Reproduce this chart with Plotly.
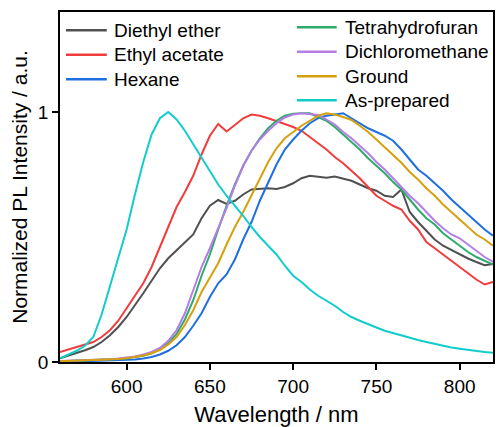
import plotly.graph_objects as go

# Emission wavelength grid (nm)
wavelength = list(range(560, 821, 5))

# Normalized PL spectra for each sample
diethyl_ether = [0.015, 0.025, 0.035, 0.047, 0.06, 0.08, 0.107, 0.14, 0.18, 0.225,
                 0.275, 0.325, 0.375, 0.415, 0.447, 0.48, 0.51, 0.575, 0.625, 0.648,
                 0.632, 0.645, 0.67, 0.69, 0.693, 0.695, 0.692, 0.70, 0.715, 0.735,
                 0.745, 0.74, 0.737, 0.742, 0.735, 0.725, 0.71, 0.695, 0.685, 0.665,
                 0.66, 0.69, 0.60, 0.56, 0.525, 0.49, 0.465, 0.447, 0.43, 0.414,
                 0.40, 0.387, 0.392]
ethyl_acetate = [0.04, 0.05, 0.06, 0.07, 0.08, 0.10, 0.127, 0.165, 0.215, 0.265,
                 0.315, 0.38, 0.46, 0.54, 0.62, 0.68, 0.745, 0.83, 0.905, 0.952,
                 0.922, 0.948, 0.975, 0.99, 0.985, 0.975, 0.965, 0.952, 0.94, 0.925,
                 0.90, 0.875, 0.85, 0.82, 0.795, 0.765, 0.735, 0.70, 0.665, 0.645,
                 0.625, 0.61, 0.565, 0.53, 0.48, 0.455, 0.43, 0.405, 0.38, 0.355,
                 0.33, 0.31, 0.32]
hexane = [0.0, 0.001, 0.002, 0.003, 0.004, 0.005, 0.006, 0.007, 0.008, 0.01,
          0.014, 0.02, 0.03, 0.045, 0.067, 0.10, 0.145, 0.195, 0.26, 0.315,
          0.35, 0.41, 0.49, 0.56, 0.645, 0.72, 0.79, 0.85, 0.89, 0.925,
          0.955, 0.975, 0.985, 0.99, 0.995, 0.975, 0.955, 0.935, 0.92, 0.905,
          0.885, 0.85, 0.81, 0.77, 0.745, 0.715, 0.685, 0.65, 0.62, 0.59,
          0.56, 0.53, 0.505]
tetrahydrofuran = [0.003, 0.004, 0.005, 0.006, 0.007, 0.008, 0.01, 0.012, 0.015, 0.019,
                   0.025, 0.035, 0.05, 0.075, 0.112, 0.17, 0.247, 0.345, 0.43, 0.53,
                   0.625, 0.71, 0.785, 0.845, 0.895, 0.935, 0.965, 0.985, 0.993, 0.995,
                   0.995, 0.98, 0.965, 0.94, 0.91, 0.88, 0.85, 0.815, 0.785, 0.755,
                   0.72, 0.69, 0.65, 0.61, 0.575, 0.55, 0.515, 0.49, 0.465, 0.44,
                   0.42, 0.405, 0.39]
dichloromethane = [0.004, 0.005, 0.006, 0.007, 0.008, 0.009, 0.011, 0.014, 0.017, 0.022,
                   0.03, 0.04, 0.056, 0.085, 0.127, 0.195, 0.287, 0.38, 0.455, 0.535,
                   0.615, 0.705, 0.785, 0.845, 0.89, 0.925, 0.955, 0.978, 0.99, 0.995,
                   0.993, 0.988, 0.97, 0.95, 0.92, 0.895, 0.865, 0.835, 0.80, 0.77,
                   0.735, 0.70, 0.665, 0.635, 0.60, 0.565, 0.535, 0.51, 0.495, 0.47,
                   0.445, 0.42, 0.40]
ground = [0.003, 0.004, 0.005, 0.006, 0.007, 0.008, 0.01, 0.012, 0.015, 0.02,
          0.026, 0.035, 0.048, 0.07, 0.10, 0.148, 0.207, 0.28, 0.335, 0.395,
          0.47, 0.54, 0.60, 0.665, 0.735, 0.80, 0.855, 0.895, 0.92, 0.945,
          0.965, 0.985, 0.995, 0.99, 0.98, 0.968, 0.945, 0.92, 0.89, 0.86,
          0.83, 0.797, 0.76, 0.73, 0.695, 0.665, 0.63, 0.60, 0.57, 0.54,
          0.51, 0.49, 0.465]
as_prepared = [0.015, 0.03, 0.045, 0.065, 0.10, 0.19, 0.30, 0.41, 0.53, 0.67,
               0.80, 0.91, 0.975, 1.0, 0.97, 0.925, 0.87, 0.815, 0.76, 0.71,
               0.665, 0.625, 0.585, 0.54, 0.50, 0.465, 0.43, 0.385, 0.345, 0.32,
               0.29, 0.265, 0.245, 0.225, 0.20, 0.18, 0.165, 0.15, 0.138, 0.125,
               0.115, 0.105, 0.097, 0.088, 0.08, 0.072, 0.065, 0.058, 0.053, 0.048,
               0.044, 0.04, 0.037]

series_names = ["Diethyl ether", "Ethyl acetate", "Hexane",
                "Tetrahydrofuran", "Dichloromethane", "Ground", "As-prepared"]
series_values = [diethyl_ether, ethyl_acetate, hexane,
                 tetrahydrofuran, dichloromethane, ground, as_prepared]
series_colors = ["#505050", "#f03c3c", "#1f6fe0",
                 "#2eaa6a", "#b57ee6", "#d6a00e", "#12cccc"]

x_ticks = [600, 650, 700, 750, 800]
y_ticks = [0, 1]
y_tick_labels = ["0", "1"]

FONT = "Liberation Sans, Arial, sans-serif"
W, H = 496, 427
L, R, T, B = 60, 1, 12, 65

fig = go.Figure()
for name, vals, col in zip(series_names, series_values, series_colors):
    fig.add_trace(go.Scatter(x=wavelength, y=vals, mode="lines", name=name,
                             line=dict(color=col, width=2), showlegend=False))

# Hand-placed two-column key inside the frame
pw, ph = W - L - R, H - T - B


def px_to_paper(px, py):
    return (px - L) / pw, (H - B - py) / ph


key_cols = [
    (66, 107, 112, [30.3, 54.7, 79.3], series_names[:3], series_colors[:3]),
    (298, 338, 344, [27.3, 51.7, 76.3, 100.3], series_names[3:], series_colors[3:]),
]
shapes, annotations = [], []
for x0, x1, xt, rows, names, cols in key_cols:
    for py, nm, col in zip(rows, names, cols):
        a0, b0 = px_to_paper(x0, py)
        a1, _ = px_to_paper(x1, py)
        shapes.append(dict(type="line", xref="paper", yref="paper",
                           x0=a0, x1=a1, y0=b0, y1=b0,
                           line=dict(color=col, width=2.5)))
        at, _ = px_to_paper(xt, py)
        annotations.append(dict(xref="paper", yref="paper", x=at, y=b0,
                                text=nm, showarrow=False, xanchor="left",
                                yanchor="middle",
                                font=dict(family=FONT, size=19, color="black")))

fig.update_layout(
    width=W, height=H,
    margin=dict(l=L, r=R, t=T, b=B),
    paper_bgcolor="white", plot_bgcolor="white",
    font=dict(family=FONT, color="black"),
    shapes=shapes, annotations=annotations,
)
fig.update_xaxes(
    range=[560, 820], tickvals=x_ticks, ticks="outside", ticklen=6, tickwidth=1.8,
    tickcolor="black", showline=True, linecolor="black", linewidth=1.8, mirror=True,
    showgrid=False, zeroline=False, tickfont=dict(size=19, family=FONT),
    title=dict(text="Wavelength / nm", font=dict(size=22, family=FONT), standoff=12),
)
fig.update_yaxes(
    range=[0, 1.4], tickvals=y_ticks, ticktext=y_tick_labels, ticks="outside",
    ticklen=6, tickwidth=1.8, tickcolor="black", showline=True, linecolor="black",
    linewidth=1.8, mirror=True, showgrid=False, zeroline=False,
    tickfont=dict(size=19, family=FONT),
    title=dict(text="Normalized PL Intensity / a.u.", font=dict(size=21, family=FONT),
               standoff=4),
)

fig.write_html("out.html")
